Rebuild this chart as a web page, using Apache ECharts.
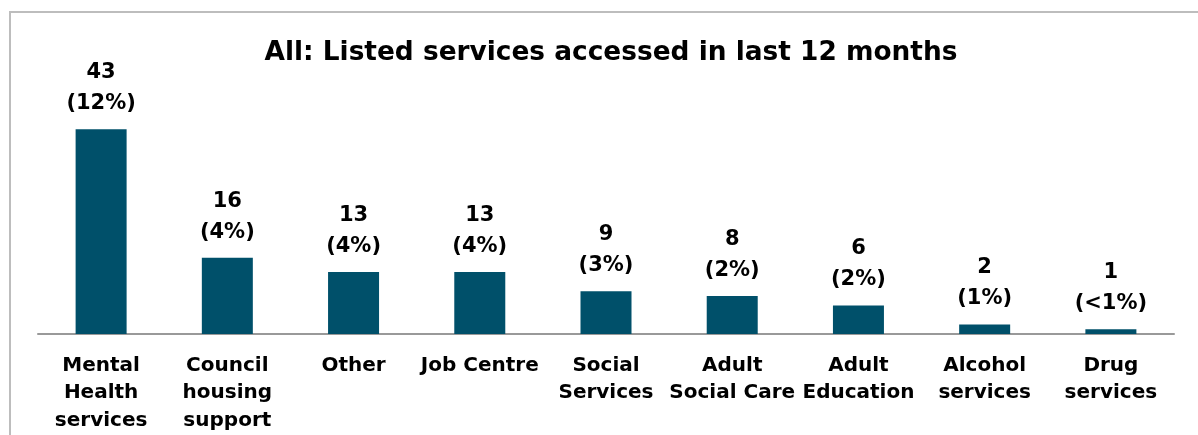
<!DOCTYPE html>
<html>
<head>
<meta charset="utf-8">
<script src="https://cdn.jsdelivr.net/npm/echarts@6/dist/echarts.min.js"></script>
<style>html,body{margin:0;padding:0;background:#fff;}#c{width:1198px;height:435px;}</style>
</head>
<body>
<div id="c"></div>
<script>
const categories = ["Mental\nHealth\nservices", "Council\nhousing\nsupport", "Other", "Job Centre", "Social\nServices", "Adult\nSocial Care", "Adult\nEducation", "Alcohol\nservices", "Drug\nservices"];
const counts = [43, 16, 13, 13, 9, 8, 6, 2, 1];
const percents = ["12%", "4%", "4%", "4%", "3%", "2%", "2%", "1%", "<1%"];
const titleText = "All: Listed services accessed in last 12 months";

const FONT = "'DejaVu Sans', Tahoma, sans-serif";
const chart = echarts.init(document.getElementById('c'), null, {renderer: 'canvas'});
chart.setOption({
  animation: false,
  backgroundColor: '#fff',
  title: {
    text: titleText,
    left: 606, top: 35, textAlign: 'center',
    textStyle: {fontFamily: FONT, fontWeight: 'bold', fontSize: 26.4, color: '#000'}
  },
  graphic: [{
    type: 'rect', z: -1,
    shape: {x: 10, y: 12, width: 1300, height: 600},
    style: {fill: 'none', stroke: '#bdbdbd', lineWidth: 2}
  }],
  grid: {left: 38, right: 24, top: 96, bottom: 101},
  xAxis: {
    type: 'category', data: categories,
    axisLine: {lineStyle: {color: '#999', width: 2}},
    axisTick: {show: false},
    axisLabel: {interval: 0, margin: 18, fontFamily: FONT, fontWeight: 'bold', fontSize: 20, lineHeight: 27.5, color: '#000'}
  },
  yAxis: {type: 'value', min: 0, max: 50, show: false, splitLine: {show: false}},
  series: [{
    type: 'bar', data: counts, barWidth: 51,
    itemStyle: {color: '#00506a'},
    label: {
      show: true, position: 'top', distance: 10,
      formatter: p => counts[p.dataIndex] + '\n(' + percents[p.dataIndex] + ')',
      fontFamily: FONT, fontWeight: 'bold', fontSize: 21, lineHeight: 31, color: '#000'
    }
  }]
});
</script>
</body>
</html>
